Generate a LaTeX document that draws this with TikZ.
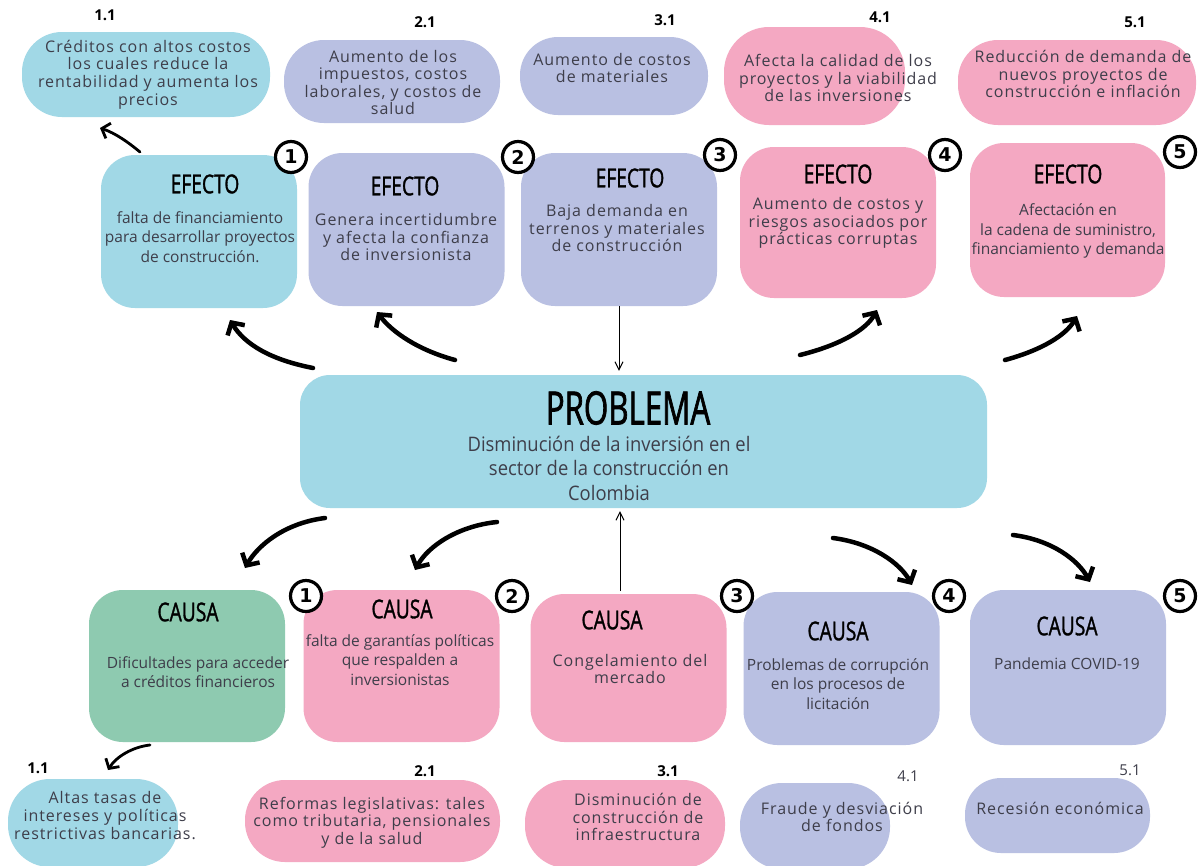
\documentclass[tikz,border=0pt]{standalone}
\usepackage{fontspec}
\setmainfont{Open Sans}
\newfontfamily\bodyfont[LetterSpace=6]{Open Sans}
\newfontfamily\condfont{Open Sans}
\newfontfamily\probfont[FakeStretch=0.92]{Open Sans}
\newfontfamily\headfont[FakeStretch=0.74,FakeBold=1.2]{Open Sans}
\newfontfamily\bigfont[FakeStretch=0.68,FakeBold=1.5]{Open Sans}
\newfontfamily\numfont{DejaVu Sans}
\usetikzlibrary{arrows.meta}
\definecolor{cyanbox}{RGB}{161,216,230}
\definecolor{lavbox}{RGB}{185,192,226}
\definecolor{pinkbox}{RGB}{244,168,194}
\definecolor{greenbox}{RGB}{142,202,176}
\definecolor{txt}{RGB}{62,62,74}
\tikzset{
  box/.style={rounded corners=34pt, minimum width=196pt, minimum height=153pt, inner sep=0pt},
  btxt/.style={font=\bodyfont\fontsize{16}{17.6}\selectfont, text=txt, align=center, inner sep=0pt},
  ctxt/.style={font=\condfont\fontsize{15.5}{19.5}\selectfont, text=txt, align=center, inner sep=0pt},
  head/.style={font=\headfont\fontsize{26}{26}\selectfont, text=black, inner sep=0pt},
  numc/.style={circle, draw=black, fill=white, line width=3.2pt, minimum size=31pt, inner sep=0pt, font=\numfont\bfseries\fontsize{19}{19}\selectfont},
  lbl/.style={font=\fontsize{15}{15}\selectfont\bfseries, inner sep=0pt},
  lblr/.style={font=\fontsize{15}{15}\selectfont, text=txt, inner sep=0pt},
  thick arrow/.style={line width=4.5pt, line cap=round, -{Straight Barb[length=9pt,width=20pt,line width=4.5pt]}},
  mid arrow/.style={line width=2.8pt, line cap=round, -{Straight Barb[length=7pt,width=16pt,line width=2.8pt]}},
  thin arrow/.style={line width=1pt, -{Straight Barb[length=8pt,width=8pt]}},
}
\begin{document}
\begin{tikzpicture}[x=1pt,y=-1pt]
\useasboundingbox (0,0) rectangle (1201,865);
\fill[white] (0,0) rectangle (1201,865);

% ---------- top row (effect details)
\node[fill=cyanbox, rounded corners=40pt, minimum width=248pt, minimum height=85pt] (t1) at (146,74.5) {};
\node[fill=lavbox, rounded corners=40pt, minimum width=216pt, minimum height=83pt] (t2) at (392,81.5) {};
\node[fill=lavbox, rounded corners=38pt, minimum width=188pt, minimum height=78pt] (t3) at (614,76) {};
\node[fill=pinkbox, rounded corners=45pt, minimum width=181pt, minimum height=98pt] (t4) at (814.5,76) {};
\node[fill=pinkbox, rounded corners=40pt, minimum width=238pt, minimum height=85pt] (t5) at (1077,82.5) {};
\node[lbl] (l11) at (105,15) {1.1};
\node[lbl] (l21) at (425,22) {2.1};
\node[lbl] (l31) at (665,20) {3.1};
\node[lbl] (l41) at (880,17) {4.1};
\node[lbl] (l51) at (1135,22) {5.1};
\node[btxt] (t1x) at (148,74.5) {Créditos con altos costos\\los cuales reduce la\\rentabilidad y aumenta los\\precios};
\node[btxt] (t2x) at (393,82.5) {Aumento de los\\impuestos, costos\\laborales, y costos de\\salud};
\node[btxt] (t3x) at (612,68) {Aumento de costos\\de materiales};
\node[btxt] (t4x) at (838,78) {Afecta la calidad de los\\proyectos y la viabilidad\\de las inversiones};
\node[btxt] (t5x) at (1083,74) {Reducción de demanda de\\nuevos proyectos de\\construcción e inflación};

% ---------- effects
\node[box, fill=cyanbox] (e1) at (199,231.5) {};
\node[box, fill=lavbox] (e2) at (406.5,229.5) {};
\node[box, fill=lavbox] (e3) at (619,229.5) {};
\node[box, fill=pinkbox, minimum height=151pt] (e4) at (838,222.5) {};
\node[box, fill=pinkbox, minimum width=195pt, minimum height=154pt] (e5) at (1067.5,220) {};
\node[head] (e1h) at (205,184) {EFECTO};
\node[head] (e2h) at (405,186) {EFECTO};
\node[head] (e3h) at (630,178) {EFECTO};
\node[head] (e4h) at (838,174) {EFECTO};
\node[head] (e5h) at (1068,174) {EFECTO};
\node[ctxt] (e1x) at (200,237) {falta de financiamiento\\para desarrollar proyectos\\de construcción.};
\node[btxt] (e2x) at (406,237) {Genera incertidumbre\\y afecta la confianza\\de inversionista};
\node[btxt] (e3x) at (617,228) {Baja demanda en\\terrenos y materiales\\de construcción};
\node[btxt] (e4x) at (838,223) {Aumento de costos y\\riesgos asociados por\\prácticas corruptas};
\node[ctxt] (e5x) at (1068,231) {Afectación en\\la cadena de suministro,\\financiamiento y demanda};
\node[numc] (ne1) at (291,157) {1};
\node[numc] (ne2) at (518,157) {2};
\node[numc] (ne3) at (720,155) {3};
\node[numc] (ne4) at (945,155) {4};
\node[numc] (ne5) at (1180,152) {5};

% ---------- problem
\node[fill=cyanbox, rounded corners=30pt, minimum width=687pt, minimum height=133pt, inner sep=0pt] (p) at (643.5,441.5) {};
\node[inner sep=0pt, font=\bigfont\fontsize{46}{46}\selectfont] (ph) at (628,408) {PROBLEMA};
\node[font=\probfont\fontsize{20}{24.5}\selectfont, text=txt, align=center, inner sep=0pt] (px) at (609,468) {Disminución de la inversión en el\\sector de la construcción en\\Colombia};

% ---------- causes
\node[box, fill=greenbox, minimum height=152pt] (c1) at (187,666) {};
\node[box, fill=pinkbox, minimum height=152pt] (c2) at (401.5,666) {};
\node[box, fill=pinkbox, minimum height=148pt] (c3) at (628.5,668) {};
\node[box, fill=lavbox] (c4) at (841.5,668.5) {};
\node[box, fill=lavbox, minimum height=155pt] (c5) at (1068,667.5) {};
\node[head] (c1h) at (188,612) {CAUSA};
\node[head] (c2h) at (402,609) {CAUSA};
\node[head] (c3h) at (612,620) {CAUSA};
\node[head] (c4h) at (838,631) {CAUSA};
\node[head] (c5h) at (1067,626) {CAUSA};
\node[ctxt] (c1x) at (198,672) {Dificultades para acceder\\a créditos financieros};
\node[ctxt] (c2x) at (400,660) {falta de garantías políticas\\que respalden a\\inversionistas};
\node[btxt] (c3x) at (630,669) {Congelamiento del\\mercado};
\node[ctxt] (c4x) at (838,684) {Problemas de corrupción\\en los procesos de\\licitación};
\node[ctxt] (c5x) at (1067,664) {Pandemia COVID-19};
\node[numc] (nc1) at (306,596) {1};
\node[numc] (nc2) at (512,596) {2};
\node[numc] (nc3) at (737,596) {3};
\node[numc] (nc4) at (949,596) {4};
\node[numc] (nc5) at (1180,596) {5};

% ---------- bottom row (cause details)
\node[fill=cyanbox, rounded corners=42pt, minimum width=170pt, minimum height=88pt] (b1) at (93,823) {};
\node[fill=pinkbox, rounded corners=40pt, minimum width=255pt, minimum height=82pt] (b2) at (372.5,821) {};
\node[fill=pinkbox, rounded corners=42pt, minimum width=200pt, minimum height=88pt] (b3) at (625,824) {};
\node[fill=lavbox, rounded corners=42pt, minimum width=150pt, minimum height=86pt] (b4) at (815,826) {};
\node[fill=lavbox, rounded corners=36pt, minimum width=185pt, minimum height=75pt] (b5) at (1057.5,815.5) {};
\node[lbl] (m11) at (38,768) {1.1};
\node[lbl] (m21) at (425,771) {2.1};
\node[lbl] (m31) at (668,771) {3.1};
\node[lblr] (m41) at (908,776) {4.1};
\node[lblr] (m51) at (1130,770) {5.1};
\node[btxt] (b1x) at (105,815.5) {Altas tasas de\\intereses y políticas\\restrictivas bancarias.};
\node[btxt] (b2x) at (372,822.5) {Reformas legislativas: tales\\como tributaria, pensionales\\y de la salud};
\node[btxt] (b3x) at (638,817) {Disminución de\\construcción de\\infraestructura};
\node[btxt] (b4x) at (842,817) {Fraude y desviación\\de fondos};
\node[btxt] (b5x) at (1060,808) {Recesión económica};

% ---------- connectors
\coordinate (a1s) at (313,368); \coordinate (a1e) at (230,320);
\coordinate (a2s) at (455,360); \coordinate (a2e) at (377,312);
\coordinate (a4s) at (800,355); \coordinate (a4e) at (877,310);
\coordinate (a5s) at (1005,360); \coordinate (a5e) at (1077,316);
\coordinate (a0s) at (140,152); \coordinate (a0e) at (100,128);
\coordinate (d1s) at (325,518); \coordinate (d1e) at (245,568);
\coordinate (d2s) at (497,522); \coordinate (d2e) at (415,570);
\coordinate (d4s) at (833,538); \coordinate (d4e) at (912,585);
\coordinate (d5s) at (1013,535); \coordinate (d5e) at (1090,582);
\coordinate (d0s) at (150,745); \coordinate (d0e) at (108,770);
\coordinate (u3) at (620,591);

\draw[thick arrow] (a1s) .. controls (272,360) and (245,345) .. (a1e);
\draw[thick arrow] (a2s) .. controls (418,350) and (392,332) .. (a2e);
\draw[thick arrow] (a4s) .. controls (840,345) and (866,330) .. (a4e);
\draw[thick arrow] (a5s) .. controls (1042,350) and (1066,335) .. (a5e);
\draw[mid arrow] (a0s) .. controls (128,142) and (115,133) .. (a0e);
\draw[thin arrow, shorten >=4pt] (e3.south) -- (e3.south |- p.north);
\draw[thick arrow] (d1s) .. controls (285,523) and (258,545) .. (d1e);
\draw[thick arrow] (d2s) .. controls (458,526) and (428,546) .. (d2e);
\draw[thin arrow, shorten >=3pt] (u3) -- (u3 |- p.south);
\draw[thick arrow] (d4s) .. controls (872,543) and (900,563) .. (d4e);
\draw[thick arrow] (d5s) .. controls (1052,540) and (1078,560) .. (d5e);
\draw[mid arrow] (d0s) .. controls (132,747) and (116,757) .. (d0e);
\end{tikzpicture}
\end{document}
